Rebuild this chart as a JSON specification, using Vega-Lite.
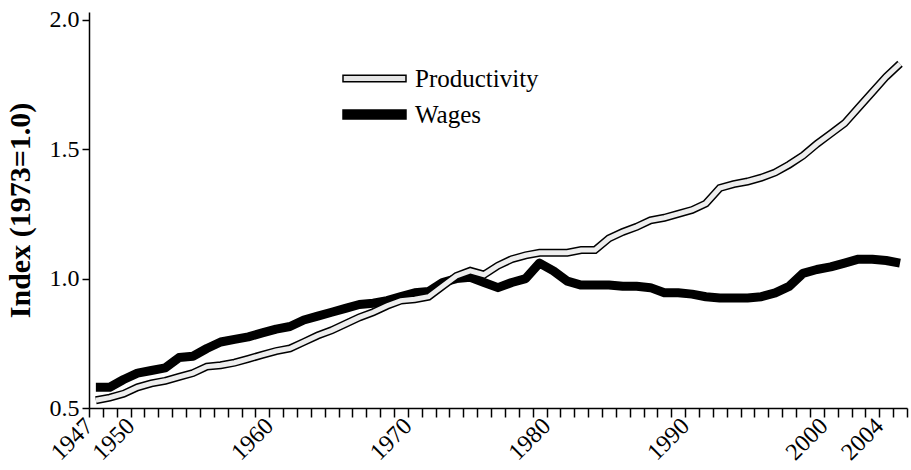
{
  "$schema": "https://vega.github.io/schema/vega-lite/v6.json",
  "width": 818,
  "height": 396,
  "autosize": {"type": "none"},
  "padding": {"left": 89, "top": 12, "right": 4, "bottom": 62},
  "background": "white",
  "config": {"view": {"stroke": null}, "font": "Liberation Serif"},
  "data": {"values": [
    {"series":"Productivity","date":"1947-07-01","value":0.53},
    {"series":"Productivity","date":"1948-07-01","value":0.54},
    {"series":"Productivity","date":"1949-07-01","value":0.555},
    {"series":"Productivity","date":"1950-07-01","value":0.58},
    {"series":"Productivity","date":"1951-07-01","value":0.595},
    {"series":"Productivity","date":"1952-07-01","value":0.605},
    {"series":"Productivity","date":"1953-07-01","value":0.62},
    {"series":"Productivity","date":"1954-07-01","value":0.635},
    {"series":"Productivity","date":"1955-07-01","value":0.66},
    {"series":"Productivity","date":"1956-07-01","value":0.665},
    {"series":"Productivity","date":"1957-07-01","value":0.675},
    {"series":"Productivity","date":"1958-07-01","value":0.69},
    {"series":"Productivity","date":"1959-07-01","value":0.705},
    {"series":"Productivity","date":"1960-07-01","value":0.72},
    {"series":"Productivity","date":"1961-07-01","value":0.73},
    {"series":"Productivity","date":"1962-07-01","value":0.755},
    {"series":"Productivity","date":"1963-07-01","value":0.78},
    {"series":"Productivity","date":"1964-07-01","value":0.8},
    {"series":"Productivity","date":"1965-07-01","value":0.825},
    {"series":"Productivity","date":"1966-07-01","value":0.85},
    {"series":"Productivity","date":"1967-07-01","value":0.87},
    {"series":"Productivity","date":"1968-07-01","value":0.895},
    {"series":"Productivity","date":"1969-07-01","value":0.915},
    {"series":"Productivity","date":"1970-07-01","value":0.92},
    {"series":"Productivity","date":"1971-07-01","value":0.93},
    {"series":"Productivity","date":"1972-07-01","value":0.97},
    {"series":"Productivity","date":"1973-07-01","value":1.01},
    {"series":"Productivity","date":"1974-07-01","value":1.03},
    {"series":"Productivity","date":"1975-07-01","value":1.015},
    {"series":"Productivity","date":"1976-07-01","value":1.05},
    {"series":"Productivity","date":"1977-07-01","value":1.075},
    {"series":"Productivity","date":"1978-07-01","value":1.09},
    {"series":"Productivity","date":"1979-07-01","value":1.1},
    {"series":"Productivity","date":"1980-07-01","value":1.1},
    {"series":"Productivity","date":"1981-07-01","value":1.1},
    {"series":"Productivity","date":"1982-07-01","value":1.11},
    {"series":"Productivity","date":"1983-07-01","value":1.11},
    {"series":"Productivity","date":"1984-07-01","value":1.155},
    {"series":"Productivity","date":"1985-07-01","value":1.18},
    {"series":"Productivity","date":"1986-07-01","value":1.2},
    {"series":"Productivity","date":"1987-07-01","value":1.225},
    {"series":"Productivity","date":"1988-07-01","value":1.235},
    {"series":"Productivity","date":"1989-07-01","value":1.25},
    {"series":"Productivity","date":"1990-07-01","value":1.265},
    {"series":"Productivity","date":"1991-07-01","value":1.29},
    {"series":"Productivity","date":"1992-07-01","value":1.35},
    {"series":"Productivity","date":"1993-07-01","value":1.365},
    {"series":"Productivity","date":"1994-07-01","value":1.375},
    {"series":"Productivity","date":"1995-07-01","value":1.39},
    {"series":"Productivity","date":"1996-07-01","value":1.41},
    {"series":"Productivity","date":"1997-07-01","value":1.44},
    {"series":"Productivity","date":"1998-07-01","value":1.475},
    {"series":"Productivity","date":"1999-07-01","value":1.52},
    {"series":"Productivity","date":"2000-07-01","value":1.56},
    {"series":"Productivity","date":"2001-07-01","value":1.6},
    {"series":"Productivity","date":"2002-07-01","value":1.66},
    {"series":"Productivity","date":"2003-07-01","value":1.72},
    {"series":"Productivity","date":"2004-07-01","value":1.78},
    {"series":"Productivity","date":"2005-07-01","value":1.83},
    {"series":"Wages","date":"1947-07-01","value":0.58},
    {"series":"Wages","date":"1948-07-01","value":0.58},
    {"series":"Wages","date":"1949-07-01","value":0.61},
    {"series":"Wages","date":"1950-07-01","value":0.635},
    {"series":"Wages","date":"1951-07-01","value":0.645},
    {"series":"Wages","date":"1952-07-01","value":0.655},
    {"series":"Wages","date":"1953-07-01","value":0.695},
    {"series":"Wages","date":"1954-07-01","value":0.7},
    {"series":"Wages","date":"1955-07-01","value":0.73},
    {"series":"Wages","date":"1956-07-01","value":0.755},
    {"series":"Wages","date":"1957-07-01","value":0.765},
    {"series":"Wages","date":"1958-07-01","value":0.775},
    {"series":"Wages","date":"1959-07-01","value":0.79},
    {"series":"Wages","date":"1960-07-01","value":0.805},
    {"series":"Wages","date":"1961-07-01","value":0.815},
    {"series":"Wages","date":"1962-07-01","value":0.84},
    {"series":"Wages","date":"1963-07-01","value":0.855},
    {"series":"Wages","date":"1964-07-01","value":0.87},
    {"series":"Wages","date":"1965-07-01","value":0.885},
    {"series":"Wages","date":"1966-07-01","value":0.9},
    {"series":"Wages","date":"1967-07-01","value":0.905},
    {"series":"Wages","date":"1968-07-01","value":0.915},
    {"series":"Wages","date":"1969-07-01","value":0.93},
    {"series":"Wages","date":"1970-07-01","value":0.945},
    {"series":"Wages","date":"1971-07-01","value":0.95},
    {"series":"Wages","date":"1972-07-01","value":0.985},
    {"series":"Wages","date":"1973-07-01","value":1.0},
    {"series":"Wages","date":"1974-07-01","value":1.005},
    {"series":"Wages","date":"1975-07-01","value":0.985},
    {"series":"Wages","date":"1976-07-01","value":0.965},
    {"series":"Wages","date":"1977-07-01","value":0.985},
    {"series":"Wages","date":"1978-07-01","value":1.0},
    {"series":"Wages","date":"1979-07-01","value":1.06},
    {"series":"Wages","date":"1980-07-01","value":1.03},
    {"series":"Wages","date":"1981-07-01","value":0.99},
    {"series":"Wages","date":"1982-07-01","value":0.975},
    {"series":"Wages","date":"1983-07-01","value":0.975},
    {"series":"Wages","date":"1984-07-01","value":0.975},
    {"series":"Wages","date":"1985-07-01","value":0.97},
    {"series":"Wages","date":"1986-07-01","value":0.97},
    {"series":"Wages","date":"1987-07-01","value":0.965},
    {"series":"Wages","date":"1988-07-01","value":0.945},
    {"series":"Wages","date":"1989-07-01","value":0.945},
    {"series":"Wages","date":"1990-07-01","value":0.94},
    {"series":"Wages","date":"1991-07-01","value":0.93},
    {"series":"Wages","date":"1992-07-01","value":0.925},
    {"series":"Wages","date":"1993-07-01","value":0.925},
    {"series":"Wages","date":"1994-07-01","value":0.925},
    {"series":"Wages","date":"1995-07-01","value":0.93},
    {"series":"Wages","date":"1996-07-01","value":0.945},
    {"series":"Wages","date":"1997-07-01","value":0.97},
    {"series":"Wages","date":"1998-07-01","value":1.02},
    {"series":"Wages","date":"1999-07-01","value":1.035},
    {"series":"Wages","date":"2000-07-01","value":1.045},
    {"series":"Wages","date":"2001-07-01","value":1.06},
    {"series":"Wages","date":"2002-07-01","value":1.075},
    {"series":"Wages","date":"2003-07-01","value":1.075},
    {"series":"Wages","date":"2004-07-01","value":1.07},
    {"series":"Wages","date":"2005-07-01","value":1.06}
  ]},
  "encoding": {
    "x": {
      "field": "date",
      "type": "temporal",
      "scale": {"type": "utc", "domain": [{"year": 1947, "month": 1, "date": 1, "utc": true}, {"year": 2006, "month": 1, "date": 1, "utc": true}]},
      "axis": {
        "title": null,
        "grid": false,
        "tickCount": {"interval": "year", "step": 1},
        "labelExpr": "indexof([1947,1950,1960,1970,1980,1990,2000,2004], utcyear(datum.value)) >= 0 ? utcFormat(datum.value, '%Y') : ''",
        "labelAngle": -45,
        "labelAlign": "right",
        "labelBaseline": "middle",
        "labelFont": "Liberation Serif",
        "labelFontSize": 24,
        "labelColor": "black",
        "labelOverlap": false,
        "labelFlush": false,
        "labelBound": false,
        "labelPadding": 5,
        "tickSize": 9,
        "tickWidth": 1.5,
        "tickColor": "black",
        "domainColor": "black",
        "domainWidth": 1.5
      }
    },
    "y": {
      "field": "value",
      "type": "quantitative",
      "scale": {"domain": [0.5, 2.03], "nice": false, "zero": false},
      "axis": {
        "title": "Index (1973=1.0)",
        "titleFont": "Liberation Serif",
        "titleFontSize": 30,
        "titleFontWeight": "bold",
        "titleColor": "black",
        "titlePadding": 14,
        "values": [0.5, 1, 1.5, 2],
        "format": ".1f",
        "grid": false,
        "labelFont": "Liberation Serif",
        "labelFontSize": 24,
        "labelColor": "black",
        "labelPadding": 3,
        "tickSize": 7,
        "tickWidth": 1.5,
        "tickColor": "black",
        "domainColor": "black",
        "domainWidth": 1.5
      }
    }
  },
  "layer": [
    {
      "transform": [{"filter": "datum.series === 'Wages'"}],
      "mark": {"type": "line", "strokeWidth": 9, "strokeJoin": "round"},
      "encoding": {
        "color": {
          "field": "series",
          "type": "nominal",
          "scale": {"domain": ["Productivity", "Wages"], "range": ["black", "black"]},
          "legend": {
            "title": null,
            "orient": "none",
            "legendX": 269,
            "legendY": 50,
            "padding": 0,
            "symbolType": "M-2,-0.2H2V0.2H-2Z",
            "symbolSize": 992,
            "symbolStrokeWidth": 1.5,
            "labelFont": "Liberation Serif",
            "labelFontSize": 25,
            "labelColor": "black",
            "labelOffset": 24,
            "rowPadding": 6,
            "encode": {
              "symbols": {
                "update": {
                  "fill": {"signal": "datum.value === 'Productivity' ? '#e4e4e4' : 'black'"},
                  "stroke": {"value": "black"},
                  "strokeWidth": {"value": 1.5},
                  "shape": {"signal": "datum.value === 'Productivity' ? 'M-2,-0.2H2V0.2H-2Z' : 'M-2,-0.28H2V0.28H-2Z'"}
                }
              }
            }
          }
        }
      }
    },
    {
      "transform": [{"filter": "datum.series === 'Productivity'"}],
      "mark": {"type": "line", "strokeWidth": 8, "color": "black"},
      "encoding": {}
    },
    {
      "transform": [{"filter": "datum.series === 'Productivity'"}],
      "mark": {"type": "line", "strokeWidth": 5, "color": "#eeeeee"},
      "encoding": {}
    }
  ]
}
